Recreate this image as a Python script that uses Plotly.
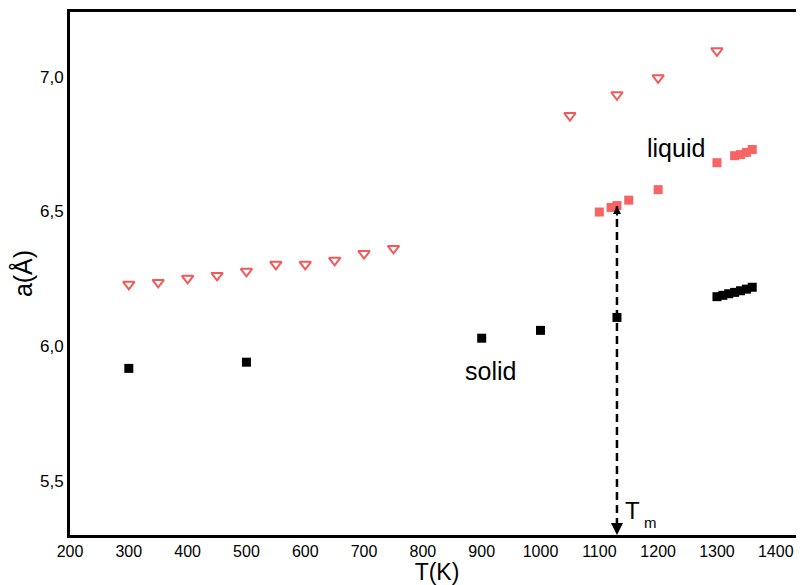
import plotly.graph_objects as go

# Lattice parameter data
tri_T = [300, 350, 400, 450, 500, 550, 600, 650, 700, 750, 1050, 1130, 1200, 1300]
tri_a = [6.230, 6.237, 6.252, 6.263, 6.278, 6.304, 6.304, 6.319, 6.344, 6.363, 6.856, 6.933, 6.996, 7.096]

liq_T = [1100, 1120, 1130, 1150, 1200, 1300, 1330, 1340, 1350, 1360]
liq_a = [6.498, 6.515, 6.522, 6.542, 6.581, 6.681, 6.707, 6.711, 6.719, 6.730]

sol_T = [300, 500, 900, 1000, 1130, 1300, 1310, 1320, 1330, 1340, 1350, 1360]
sol_a = [5.918, 5.941, 6.030, 6.059, 6.107, 6.184, 6.189, 6.195, 6.200, 6.206, 6.212, 6.219]

Tm = 1130
a_top = 6.52
y_min, y_max = 5.3, 7.24
x_min, x_max = 200, 1448

x_ticks = list(range(200, 1401, 100))
y_ticks = [5.5, 6.0, 6.5, 7.0]
y_ticktext = ["5,5", "6,0", "6,5", "7,0"]

FONT = "Liberation Sans, Arial, sans-serif"
NARROW = "Liberation Sans Narrow, Liberation Sans, Arial, sans-serif"

fig = go.Figure()
fig.add_trace(go.Scatter(x=tri_T, y=tri_a, mode="markers",
                         marker=dict(symbol="triangle-down-open", size=10, color="#f05a5a",
                                     line=dict(width=2, color="#f05a5a")),
                         showlegend=False))
fig.add_trace(go.Scatter(x=liq_T, y=liq_a, mode="markers",
                         marker=dict(symbol="square", size=9, color="#f86464", line=dict(width=0)),
                         showlegend=False))
fig.add_trace(go.Scatter(x=sol_T, y=sol_a, mode="markers",
                         marker=dict(symbol="square", size=9, color="black", line=dict(width=0)),
                         showlegend=False))

# dashed vertical line from liquid point down to axis
fig.add_shape(type="line", x0=Tm, x1=Tm, y0=a_top, y1=y_min + 0.03, xref="x", yref="y",
              line=dict(color="black", width=2.5, dash="8px,5px"))
# arrowheads
fig.add_annotation(x=Tm, y=y_min, ax=Tm, ay=y_min + 0.06, xref="x", yref="y", axref="x", ayref="y",
                   showarrow=True, arrowhead=2, arrowsize=1.2, arrowwidth=2, arrowcolor="black", text="")
fig.add_annotation(x=Tm, y=a_top, ax=Tm, ay=a_top - 0.04, xref="x", yref="y", axref="x", ayref="y",
                   showarrow=True, arrowhead=2, arrowsize=0.8, arrowwidth=2, arrowcolor="black", text="")

fig.add_annotation(x=1230, y=6.735, text="liquid", showarrow=False,
                   font=dict(family=FONT, size=25, color="black"))
fig.add_annotation(x=915, y=5.91, text="solid", showarrow=False,
                   font=dict(family=FONT, size=25, color="black"))
fig.add_annotation(x=1140, y=5.39, text="T", showarrow=False, xanchor="left",
                   font=dict(family=FONT, size=24, color="black"))
fig.add_annotation(x=1172, y=5.345, text="m", showarrow=False, xanchor="left",
                   font=dict(family=FONT, size=15, color="black"))

fig.update_layout(
    width=796, height=577,
    margin=dict(l=62, r=0, t=4, b=50),
    paper_bgcolor="white", plot_bgcolor="white",
    font=dict(family=FONT, color="black"),
    xaxis=dict(range=[x_min, x_max], tickvals=x_ticks, showgrid=False, zeroline=False,
               showline=True, linecolor="black", linewidth=3, mirror=True, ticks="",
               tickfont=dict(family=NARROW, size=16), ticklabelstandoff=0,
               title=dict(text="T(K)", font=dict(size=23), standoff=6)),
    yaxis=dict(range=[y_min, y_max], tickvals=y_ticks, ticktext=y_ticktext, showgrid=False,
               zeroline=False, showline=True, linecolor="black", linewidth=3, mirror=False,
               ticks="", tickfont=dict(size=17), ticklabelstandoff=0,
               title=dict(text="a(Å)", font=dict(size=25), standoff=8)),
)

fig.write_html("out.html")
